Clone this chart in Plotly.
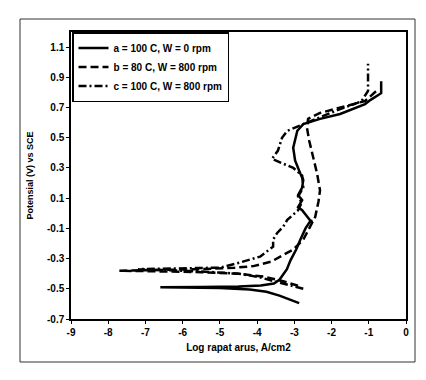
import plotly.graph_objects as go

# Curve a: 100 C, W = 0 rpm (solid)
a_x = [-2.87, -3.1, -3.4, -3.75, -4.2, -5.0, -6.0, -6.6, -5.5, -4.5, -3.9, -3.55, -3.4, -3.2, -3.1,
       -2.95, -2.84, -2.7, -2.55, -2.52, -2.79, -2.9, -2.79, -2.9, -2.79, -2.76, -2.84, -2.98, -3.03,
       -2.92, -2.76, -2.31, -1.77, -1.10, -0.96, -0.667, -0.667]
a_y = [-0.595, -0.575, -0.545, -0.52, -0.505, -0.495, -0.49, -0.49, -0.488, -0.485, -0.478, -0.465, -0.44,
       -0.37, -0.31, -0.24, -0.175, -0.10, -0.045, -0.065, 0.02, 0.04, 0.087, 0.12, 0.17, 0.22, 0.264,
       0.35, 0.434, 0.546, 0.59, 0.625, 0.657, 0.723, 0.749, 0.795, 0.874]

# Curve b: 80 C, W = 800 rpm (dashed)
b_x = [-2.9, -3.3, -3.8, -4.5, -5.5, -6.5, -7.7, -6.5, -5.5, -4.6, -4.1, -3.62, -3.03, -2.76, -2.55,
       -2.44, -2.35, -2.31, -2.39, -2.52, -2.6, -2.66, -2.63, -2.31, -1.77, -1.10, -0.75]
b_y = [-0.48, -0.45, -0.42, -0.40, -0.39, -0.385, -0.38, -0.375, -0.37, -0.36, -0.35, -0.32, -0.24,
       -0.175, -0.07, -0.025, 0.08, 0.152, 0.264, 0.395, 0.48, 0.565, 0.625, 0.664, 0.70, 0.743, 0.82]

# Curve c: 100 C, W = 800 rpm (dash-dot)
c_x = [-2.76, -3.0, -3.5, -4.0, -4.5, -5.5, -7.2, -6.0, -5.0, -4.46, -3.92, -3.57, -3.57, -3.46, -3.30,
       -3.19, -2.9, -2.8, -2.9, -2.76, -2.79, -3.03, -3.6, -3.44, -3.33, -3.19, -2.66, -2.3, -1.77,
       -1.2, -1.02, -1.02, -1.02]
c_y = [-0.50, -0.485, -0.45, -0.42, -0.40, -0.385, -0.37, -0.365, -0.36, -0.326, -0.287, -0.221,
       -0.175, -0.13, -0.09, -0.044, 0.02, 0.07, 0.11, 0.17, 0.25, 0.30, 0.36, 0.415, 0.50, 0.546,
       0.60, 0.64, 0.69, 0.74, 0.81, 0.90, 0.99]

names = ["a = 100 C, W = 0 rpm", "b = 80 C, W = 800 rpm", "c = 100 C, W = 800 rpm"]
x_ticks = [-9, -8, -7, -6, -5, -4, -3, -2, -1, 0]
y_ticks = [-0.7, -0.5, -0.3, -0.1, 0.1, 0.3, 0.5, 0.7, 0.9, 1.1]

FONT = "Liberation Sans"
fig = go.Figure()
fig.add_trace(go.Scatter(x=a_x, y=a_y, mode="lines", name=names[0],
                         line=dict(color="black", width=2.5)))
fig.add_trace(go.Scatter(x=b_x, y=b_y, mode="lines", name=names[1],
                         line=dict(color="black", width=2.5, dash="8px,4px")))
fig.add_trace(go.Scatter(x=c_x, y=c_y, mode="lines", name=names[2],
                         line=dict(color="black", width=2.5, dash="8px,3px,2px,3px")))

fig.update_layout(
    width=426, height=380,
    margin=dict(l=71, r=20, t=32, b=61),
    paper_bgcolor="white", plot_bgcolor="white",
    font=dict(family=FONT, color="black", size=10, weight="bold"),
    showlegend=True,
    legend=dict(x=0.003, y=1.0, xanchor="left", yanchor="top",
                bgcolor="white", bordercolor="black", borderwidth=1.5,
                font=dict(size=10, family=FONT, weight="bold"),
                tracegroupgap=0, itemwidth=30),
    xaxis=dict(range=[-9, 0], tickvals=x_ticks, ticktext=[str(v) for v in x_ticks],
               showgrid=False, zeroline=False, showline=True, linecolor="black", linewidth=1.5,
               mirror=True, ticks="outside", ticklen=3, tickcolor="black",
               title=dict(text="Log rapat arus, A/cm2", standoff=7,
                          font=dict(size=10, family=FONT, weight="bold"))),
    yaxis=dict(range=[-0.7, 1.2], tickvals=y_ticks, ticktext=[f"{v:.1f}" for v in y_ticks],
               showgrid=False, zeroline=False, showline=True, linecolor="black", linewidth=1.5,
               mirror=True, ticks="outside", ticklen=3, tickcolor="black",
               title=dict(text="Potensial (V) vs SCE", standoff=12,
                          font=dict(size=9, family=FONT, weight="bold"))),
)

# outer frame around the whole chart
fig.add_shape(type="rect", xref="paper", yref="paper",
              x0=(20 - 71) / 335, x1=(415 - 71) / 335,
              y0=(319 - 362) / 287, y1=(319 - 19) / 287,
              line=dict(color="#333", width=1), layer="below")

fig.write_html("out.html")
